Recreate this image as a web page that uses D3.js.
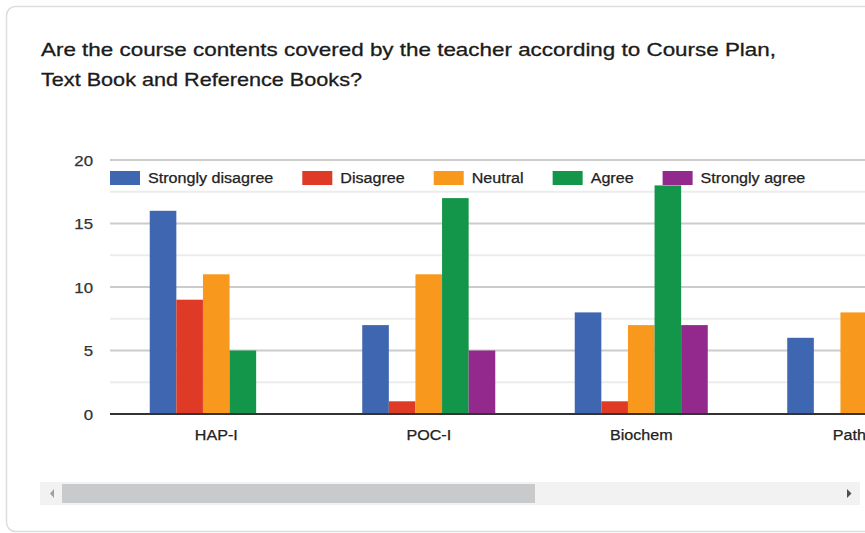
<!DOCTYPE html>
<html>
<head>
<meta charset="utf-8">
<script src="https://cdn.jsdelivr.net/npm/d3@7"></script>
<style>
  html, body { margin: 0; padding: 0; background: #fff; overflow: hidden; }
  svg { display: block; }
</style>
</head>
<body>
<svg id="chart" width="865" height="533"></svg>
<script>
// Survey responses per subject, one array per answer option
const categories = ["HAP-I", "POC-I", "Biochem", "Patho"];
const seriesNames = ["Strongly disagree", "Disagree", "Neutral", "Agree", "Strongly agree"];
const stronglyDisagree = [16, 7, 8, 6];
const disagree         = [9, 1, 1, 0];
const neutral          = [11, 11, 7, 8];
const agree            = [5, 17, 18, null];
const stronglyAgree    = [0, 5, 7, null];
const yTicks = [0, 5, 10, 15, 20];
const titleLines = [
  "Are the course contents covered by the teacher according to Course Plan,",
  "Text Book and Reference Books?"
];

const seriesValues = [stronglyDisagree, disagree, neutral, agree, stronglyAgree];
const colors = ["#3e66b1", "#de3a26", "#f8991d", "#14964a", "#93298d"];

const svg = d3.select("#chart");
const W = 865, H = 533;

// card outline
svg.append("rect")
  .attr("x", 6.5).attr("y", 6.5)
  .attr("width", 920).attr("height", 525)
  .attr("rx", 9)
  .attr("fill", "#fff")
  .attr("stroke", "#dcdde0")
  .attr("stroke-width", 1.5);

// stretch a text element horizontally to a given factor of its natural width
function stretch(sel, factor) {
  sel.each(function () {
    const w = this.getComputedTextLength();
    d3.select(this).attr("textLength", w * factor).attr("lengthAdjust", "spacingAndGlyphs");
  });
}

// title
const titleWidths = [735, 321];
svg.selectAll("text.title")
  .data(titleLines)
  .join("text")
  .attr("class", "title")
  .attr("x", 41)
  .attr("y", (d, i) => 56 + i * 30)
  .attr("font-family", "'Liberation Sans', Arial, sans-serif")
  .attr("font-size", 18.5)
  .attr("fill", "#1b1b1b")
  .attr("stroke", "#1b1b1b")
  .attr("stroke-width", 0.3)
  .text(d => d)
  .attr("textLength", (d, i) => titleWidths[i])
  .attr("lengthAdjust", "spacingAndGlyphs");

// plot area
const plotLeft = 110, plotTop = 160, plotBottom = 414;
const step = 212.5;

const x = d3.scaleBand()
  .domain(categories)
  .range([plotLeft, plotLeft + categories.length * step])
  .paddingInner(0.374)
  .paddingOuter(0.187);

const xs = d3.scaleBand()
  .domain(d3.range(seriesNames.length))
  .range([0, x.bandwidth()])
  .padding(0);

const y = d3.scaleLinear().domain([0, 20]).range([plotBottom, plotTop]);

const plot = svg.append("g");
const chartFont = "'Liberation Sans', Arial, sans-serif";

// minor gridlines
plot.append("g")
  .selectAll("line")
  .data(d3.range(2.5, 20, 5))
  .join("line")
  .attr("x1", plotLeft).attr("x2", W)
  .attr("y1", d => y(d)).attr("y2", d => y(d))
  .attr("stroke", "#ececec").attr("stroke-width", 2);

// major gridlines
plot.append("g")
  .selectAll("line")
  .data(yTicks.filter(d => d > 0))
  .join("line")
  .attr("x1", plotLeft).attr("x2", W)
  .attr("y1", d => y(d)).attr("y2", d => y(d))
  .attr("stroke", "#cccccc").attr("stroke-width", 2);

// y axis labels
const yAxis = d3.axisLeft(y).tickValues(yTicks).tickSize(0).tickPadding(0);
const yg = plot.append("g").attr("transform", `translate(${93},0)`).call(yAxis);
yg.select(".domain").remove();
yg.selectAll("text")
  .attr("font-family", chartFont)
  .attr("font-size", 14)
  .attr("fill", "#333")
  .attr("stroke", "#333")
  .attr("stroke-width", 0.25)
  .attr("dy", "0.36em")
  .call(stretch, 1.2);

// bars
const groups = plot.append("g")
  .selectAll("g")
  .data(categories)
  .join("g")
  .attr("transform", d => `translate(${x(d)},0)`);

groups.selectAll("rect")
  .data((c, ci) => seriesValues.map((vals, si) => ({ si, v: vals[ci] })).filter(d => d.v != null && d.v > 0))
  .join("rect")
  .attr("x", d => xs(d.si))
  .attr("width", xs.bandwidth())
  .attr("y", d => y(d.v))
  .attr("height", d => y(0) - y(d.v))
  .attr("fill", d => colors[d.si]);

// baseline
plot.append("line")
  .attr("x1", plotLeft).attr("x2", W)
  .attr("y1", y(0)).attr("y2", y(0))
  .attr("stroke", "#333").attr("stroke-width", 2);

// x axis labels
const xAxis = d3.axisBottom(x).tickSize(0).tickPadding(0);
const xg = plot.append("g").attr("transform", `translate(0,${y(0)})`).call(xAxis);
xg.select(".domain").remove();
xg.selectAll("text")
  .attr("font-family", chartFont)
  .attr("font-size", 14)
  .attr("fill", "#222")
  .attr("stroke", "#222")
  .attr("stroke-width", 0.25)
  .attr("dy", 0)
  .attr("y", 26)
  .call(stretch, 1.15);

// legend
const legend = svg.append("g").attr("transform", "translate(110,171)");
let lx = 0;
seriesNames.forEach((name, i) => {
  const item = legend.append("g").attr("transform", `translate(${lx},0)`);
  item.append("rect")
    .attr("width", 30).attr("height", 14)
    .attr("fill", colors[i]);
  const t = item.append("text")
    .attr("x", 38).attr("y", 12)
    .attr("font-family", chartFont)
    .attr("font-size", 14)
    .attr("fill", "#222")
    .attr("stroke", "#222")
    .attr("stroke-width", 0.25)
    .text(name)
    .call(stretch, 1.15);
  lx += 38 + (+t.attr("textLength")) + 29;
});

// horizontal scrollbar
const sb = svg.append("g");
sb.append("rect")
  .attr("x", 40).attr("y", 482).attr("width", 820).attr("height", 23)
  .attr("fill", "#f1f2f1");
sb.append("rect")
  .attr("x", 62).attr("y", 484).attr("width", 473).attr("height", 19)
  .attr("fill", "#c9cacc");
sb.append("path")
  .attr("d", "M54,489 L54,498 L50,493.5 Z")
  .attr("fill", "#a0a0a0");
sb.append("path")
  .attr("d", "M847,489 L847,498 L851.5,493.5 Z")
  .attr("fill", "#505050");
</script>
</body>
</html>
